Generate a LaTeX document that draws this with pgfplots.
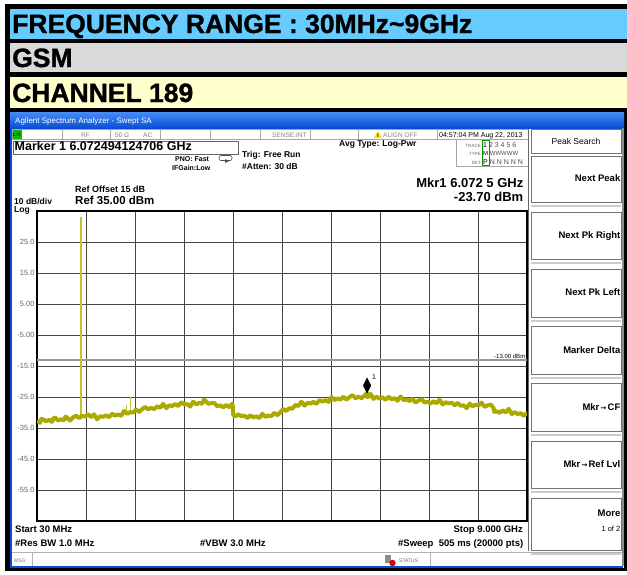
\documentclass[border=0pt]{standalone}
\usepackage{fontspec}
\setmainfont{Liberation Sans}
\newfontfamily\dejavu{DejaVu Sans}
\newfontfamily\hdr{Liberation Sans Bold}[FakeBold=1.2]
\usepackage{pgfplots}
\pgfplotsset{compat=1.18}
\definecolor{hdrblue}{RGB}{102,204,255}
\definecolor{hdrgrey}{RGB}{217,217,217}
\definecolor{hdryel}{RGB}{255,255,204}
\definecolor{trace}{RGB}{170,170,0}
\definecolor{spike}{RGB}{195,195,45}
\definecolor{xpblue1}{RGB}{70,140,245}
\definecolor{xpblue2}{RGB}{8,78,212}
\newcommand\fs[1]{\fontsize{#1}{#1}\selectfont}
\pgfplotstableread{
x y
30 -32.7
85 -33.3
112 -32.0
140 -32.2
195 -32.8
250 -32.4
305 -33.0
330 -31.9
360 -31.6
415 -32.6
470 -32.2
525 -32.5
550 -31.3
580 -31.6
635 -32.6
690 -31.6
745 -31.0
800 -31.8
855 -31.1
910 -31.3
965 -30.5
1020 -31.5
1075 -30.6
1130 -32.2
1185 -31.2
1240 -31.4
1295 -30.9
1350 -31.5
1405 -30.4
1460 -31.0
1515 -30.6
1570 -31.1
1625 -29.5
1680 -30.4
1735 -29.9
1790 -30.0
1845 -29.0
1900 -29.9
1955 -28.9
2010 -28.2
2065 -29.0
2120 -28.5
2175 -28.9
2230 -28.0
2285 -28.5
2340 -27.2
2395 -28.6
2450 -27.7
2505 -27.9
2560 -27.3
2615 -27.9
2670 -26.7
2725 -27.4
2780 -27.3
2835 -28.1
2890 -26.5
2945 -27.4
3000 -26.9
3055 -27.2
3080 -25.9
3110 -26.1
3165 -27.2
3220 -27.0
3275 -26.9
3330 -28.0
3385 -27.7
3440 -28.3
3495 -27.6
3550 -28.3
3605 -27.1
3615 -28.2
3622 -30.8
3660 -31.2
3715 -30.6
3770 -31.2
3825 -31.0
3880 -31.8
3935 -30.9
3990 -31.6
4045 -31.2
4100 -31.8
4155 -30.4
4210 -31.4
4265 -31.0
4320 -31.2
4375 -30.1
4430 -30.9
4485 -29.9
4540 -28.9
4595 -29.5
4650 -28.6
4705 -28.8
4760 -27.6
4815 -27.9
4870 -26.5
4925 -27.8
4980 -26.9
5035 -27.1
5090 -26.6
5145 -27.2
5200 -26.0
5255 -26.5
5310 -26.0
5365 -26.6
5420 -25.0
5475 -26.0
5530 -25.5
5585 -25.8
5640 -24.9
5695 -25.9
5750 -25.0
5805 -24.4
5860 -25.4
5915 -24.9
5970 -25.4
6025 -24.5
6072 -23.7
6080 -25.1
6135 -24.0
6190 -25.6
6245 -24.9
6300 -25.5
6355 -25.1
6410 -25.9
6465 -24.9
6520 -25.7
6575 -25.4
6630 -26.2
6685 -24.8
6740 -26.0
6795 -25.8
6850 -26.3
6905 -25.6
6960 -26.8
7015 -26.1
7070 -25.7
7125 -26.8
7180 -26.5
7235 -27.1
7290 -26.4
7345 -27.0
7400 -25.9
7455 -27.4
7510 -26.7
7565 -27.1
7620 -26.8
7675 -27.7
7730 -26.9
7785 -27.8
7840 -27.7
7895 -28.6
7950 -27.1
8005 -28.0
8060 -27.5
8115 -27.7
8170 -26.8
8225 -28.2
8280 -27.7
8335 -27.4
8390 -28.6
8400 -29.8
8445 -29.6
8500 -30.1
8555 -29.3
8610 -30.0
8665 -28.8
8720 -30.5
8775 -29.9
8830 -30.5
8885 -30.2
8940 -31.1
8995 -30.2
9000 -30.8
}\tracedata
\begin{document}
\begin{tikzpicture}
\begin{scope}[x=1pt,y=-1pt]
\useasboundingbox (0,0) rectangle (627,574);
\fill[white] (0,0) rectangle (627,574);
\fill[black] (5,4) rectangle (627,571);
\fill[hdrblue] (10,9) rectangle (627,39);
\fill[hdrgrey] (10,43) rectangle (627,72);
\fill[hdryel] (10,77) rectangle (627,108);
\node[anchor=base west, inner sep=0, font=\hdr\fs{26.5}] at (12,33) {FREQUENCY RANGE : 30MHz\textasciitilde9GHz};
\node[anchor=base west, inner sep=0, font=\hdr\fs{26.5}] at (12,67) {GSM};
\node[anchor=base west, inner sep=0, font=\hdr\fs{26.5}] at (12,102) {CHANNEL 189};
% window
\fill[white] (10,112) rectangle (624,568);
\shade[top color=xpblue1, bottom color=xpblue2] (10,112) rectangle (624,128);
\draw[xpblue2, line width=2pt] (11,128) -- (11,567) -- (623,567);
\draw[black!45, line width=1.5pt] (623,128) -- (623,566);
\node[anchor=mid west, inner sep=0, text=white, font=\fs{8}] at (15,120.5) {Agilent Spectrum Analyzer - Swept SA};
% status row
\draw[black!35, line width=0.5pt] (12,129.5) rectangle (528,139);
\foreach \xx in {62,110,160,210,260,310,358,437} {\draw[black!35, line width=0.5pt] (\xx,129.5) -- (\xx,139);}
\fill[green!75!black] (12.5,130) rectangle (22,138.5);
\node[inner sep=0, font=\fs{5}] at (17,134.5) {LXI};
\node[anchor=mid west, inner sep=0, text=black!50, font=\fs{6.5}] at (81,134.5) {RF};
\node[anchor=mid west, inner sep=0, text=black!50, font=\fs{6.5}] at (115,134.5) {50 Ω};
\node[anchor=mid west, inner sep=0, text=black!50, font=\fs{6.5}] at (143,134.5) {AC};
\node[anchor=mid west, inner sep=0, text=black!50, font=\fs{6.5}] at (272,134.5) {SENSE:INT};
\fill[yellow!80!orange] (374,138) -- (382,138) -- (378,131) -- cycle;
\node[inner sep=0, font=\fs{5}\bfseries] at (378,135.7) {!};
\node[anchor=mid west, inner sep=0, text=black!50, font=\fs{6.5}] at (383,134.5) {ALIGN OFF};
\node[anchor=mid west, inner sep=0, font=\fs{7}] at (439,134.5) {04:57:04 PM Aug 22, 2013};
% marker box
\draw[black!60, line width=0.6pt, fill=white] (13,141) rectangle (238,154);
\node[anchor=mid west, inner sep=0, font=\fs{12.5}\bfseries] at (14.5,147.5) {Marker 1 6.072494124706 GHz};
\node[anchor=mid west, inner sep=0, font=\fs{7}\bfseries] at (175,158.5) {PNO: Fast};
\draw[black!70, line width=0.6pt, rounded corners=2pt] (219,155.5) rectangle (232,160.5);
\fill[black!70] (225,159) -- (229,161) -- (225,163) -- cycle;
\node[anchor=mid west, inner sep=0, font=\fs{7}\bfseries] at (172,168) {IFGain:Low};
\node[anchor=mid west, inner sep=0, font=\fs{8.5}\bfseries] at (242,155) {Trig: Free Run};
\node[anchor=mid west, inner sep=0, font=\fs{8.5}\bfseries] at (242,166.5) {\#Atten: 30 dB};
\node[anchor=mid west, inner sep=0, font=\fs{8.5}\bfseries] at (339,143.5) {Avg Type: Log-Pwr};
% trace table
\node[anchor=mid east, inner sep=0, text=black!60, font=\fs{4.5}] at (481,144.5) {TRACE};
\node[anchor=mid east, inner sep=0, text=black!60, font=\fs{4.5}] at (481,153) {TYPE};
\node[anchor=mid east, inner sep=0, text=black!60, font=\fs{4.5}] at (481,161.5) {DET};
\draw[green!60!black, line width=0.5pt] (482,140.5) rectangle (489,165.5);
\node[anchor=mid west, inner sep=0, font=\fs{7}] at (483,144.5) {1 \textcolor{black!70}{2 3 4 5 6}};
\node[anchor=mid west, inner sep=0, font=\fs{6}] at (483,153) {M \textcolor{black!70}{WWWWW}};
\node[anchor=mid west, inner sep=0, font=\fs{7}] at (483,161.5) {P \textcolor{black!70}{N N N N N}};
\draw[black!35, line width=0.5pt] (456,139.5) rectangle (528,166);
% marker readout
\node[anchor=mid east, inner sep=0, font=\fs{13}\bfseries] at (523.5,185) {Mkr1 6.072 5 GHz};
\node[anchor=mid east, inner sep=0, font=\fs{13}\bfseries] at (523.5,199) {-23.70 dBm};
\node[anchor=mid west, inner sep=0, font=\fs{9}\bfseries] at (75,190) {Ref Offset 15 dB};
\node[anchor=mid west, inner sep=0, font=\fs{11.5}\bfseries] at (75,201.5) {Ref 35.00 dBm};
\node[anchor=mid west, inner sep=0, font=\fs{8.5}\bfseries] at (14,202) {10 dB/div};
\node[anchor=mid west, inner sep=0, font=\fs{8.5}\bfseries] at (14,210) {Log};
% softkeys
\draw[black!60, line width=0.6pt] (528.5,129) -- (528.5,551);
\draw[black!55, line width=0.7pt] (531,129) rectangle (621,153);
\node[font=\fs{8.5}, inner sep=0] at (576,141.5) {Peak Search};
\foreach \ya/\yb in {156/202, 212/259, 269/317, 326/374, 383/431, 441/488, 498/550} {
  \draw[black!55, line width=0.7pt] (531,\ya) rectangle (621,\yb);
  \draw[black!20, line width=1.2pt] (531,\yb+4) -- (621,\yb+4);
}
\node[anchor=mid east, inner sep=0, font=\fs{9.5}\bfseries] at (620.5,179) {Next Peak};
\node[anchor=mid east, inner sep=0, font=\fs{9.5}\bfseries] at (620.5,236) {Next Pk Right};
\node[anchor=mid east, inner sep=0, font=\fs{9.5}\bfseries] at (620.5,293) {Next Pk Left};
\node[anchor=mid east, inner sep=0, font=\fs{9.5}\bfseries] at (620.5,350.5) {Marker Delta};
\node[anchor=mid east, inner sep=0, font=\fs{9.5}\bfseries] at (620.5,407.5) {Mkr{\dejavu\fs{7}\,→\,}CF};
\node[anchor=mid east, inner sep=0, font=\fs{9.5}\bfseries] at (620.5,464.5) {Mkr{\dejavu\fs{7}\,→\,}Ref Lvl};
\node[anchor=mid east, inner sep=0, font=\fs{9.5}\bfseries] at (620.5,514) {More};
\node[anchor=mid east, inner sep=0, font=\fs{7.5}] at (620.5,529) {1 of 2};
% bottom texts
\node[anchor=mid west, inner sep=0, font=\fs{9.5}\bfseries] at (15,530) {Start 30 MHz};
\node[anchor=mid west, inner sep=0, font=\fs{9.5}\bfseries] at (15,544) {\#Res BW 1.0 MHz};
\node[anchor=mid west, inner sep=0, font=\fs{9.5}\bfseries] at (200,544) {\#VBW 3.0 MHz};
\node[anchor=mid east, inner sep=0, font=\fs{9.5}\bfseries] at (523,530) {Stop 9.000 GHz};
\node[anchor=mid east, inner sep=0, font=\fs{9.5}\bfseries] at (523.5,544) {\#Sweep\ \ 505 ms (20000 pts)};
% status bar
\draw[black!30, line width=0.6pt] (12,552) -- (622,552);
\draw[black!30, line width=0.5pt] (32,553) -- (32,566);
\draw[black!30, line width=0.5pt] (430,553) -- (430,566);
\node[anchor=mid west, inner sep=0, text=black!55, font=\fs{5}] at (14,559.5) {MSG};
\fill[black!45] (385,555) rectangle (391,563);
\fill[red!85!black] (392.5,563) circle (3.2);
\node[anchor=mid west, inner sep=0, text=black!60, font=\fs{5}] at (399,559.5) {STATUS};
\end{scope}
\begin{axis}[
  at={(37pt,-211pt)}, anchor=north west,
  scale only axis, width=490pt, height=310pt,
  xmin=30, xmax=9000, ymin=-65, ymax=35,
  xtick={927,1824,2721,3618,4515,5412,6309,7206,8103},
  xticklabels={},
  ytick={-55,-45,-35,-25,-15,-5,5,15,25},
  yticklabels={-55.0,-45.0,-35.0,-25.0,-15.0,-5.00,5.00,15.0,25.0},
  yticklabel style={font=\fs{7.5}, text=black!60, xshift=1pt},
  major tick length=0pt,
  grid=major,
  grid style={black!72, line width=0.6pt},
  axis line style={black, line width=1.3pt},
  axis background/.style={fill=white},
]
\addplot[black!40, line width=1.4pt] coordinates {(30,-13) (9000,-13)};
\addplot[spike, line width=1.2pt] coordinates {(836,-31.5) (836,33)};
\addplot[spike, line width=1pt] coordinates {(1660,-30.3) (1660,-27.5)};
\addplot[spike, line width=1pt] coordinates {(1733,-29.9) (1733,-25.0)};
\addplot[trace, line width=4pt, line join=round] table[x=x, y=y] {\tracedata};
\addplot[only marks, mark=diamond*, mark size=5pt, mark options={black, fill=black, yshift=7.5pt, yscale=1.5}] coordinates {(6072.5,-23.7)};
\node[font=\fs{7}, inner sep=0] at (axis cs:6199,-18.5) {1};
\node[anchor=south east, font=\fs{6}, inner sep=1pt] at (axis cs:8990,-13) {-13.00 dBm};
\end{axis}
\end{tikzpicture}
\end{document}
